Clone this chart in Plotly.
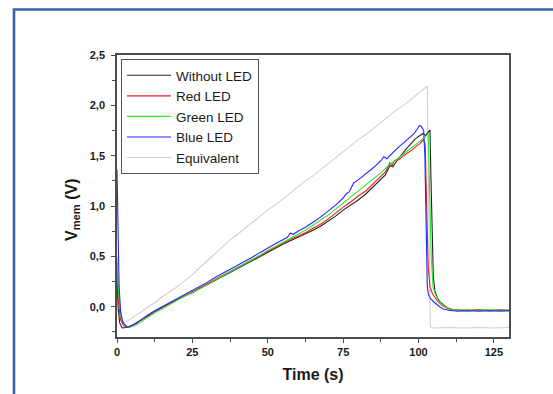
import plotly.graph_objects as go

# ---------------- data ----------------
t_black = [0, 0.4, 0.9, 1.7, 3, 5, 7.5, 10, 12.5, 15, 17.5, 20, 22.5, 25, 27.5, 30, 32.5, 35,
           37.5, 40, 42.5, 45, 47.5, 50, 52.5, 55, 57.5, 60, 62.5, 65, 67.5, 70, 72.5, 75,
           77.5, 80, 82.5, 85, 87.5, 89, 90.5, 91.5, 93, 94.5, 96, 97.5, 99, 100.5, 101.5,
           102.3, 103, 103.8, 104.1, 104.5, 104.9, 105.4, 106.2, 107.2, 108.2, 109.5, 111,
           113, 116, 120, 124, 127, 130]
v_black = [0.25, -0.02, -0.16, -0.21, -0.205, -0.185, -0.14, -0.095, -0.05, -0.01, 0.035, 0.07,
           0.11, 0.14, 0.185, 0.22, 0.26, 0.30, 0.345, 0.385, 0.42, 0.46, 0.50, 0.545, 0.58,
           0.62, 0.655, 0.69, 0.72, 0.76, 0.80, 0.85, 0.90, 0.96, 1.01, 1.06, 1.12, 1.19, 1.26,
           1.31, 1.40, 1.39, 1.46, 1.52, 1.57, 1.62, 1.67, 1.70, 1.72, 1.70, 1.73, 1.755, 1.3,
           0.7, 0.3, 0.16, 0.09, 0.045, 0.02, -0.01, -0.03, -0.035, -0.04, -0.035, -0.04,
           -0.035, -0.04]

t_red = [0, 0.5, 1.2, 2.2, 3.5, 5, 7.5, 10, 12.5, 15, 17.5, 20, 22.5, 25, 27.5, 30, 32.5, 35,
         37.5, 40, 42.5, 45, 47.5, 50, 52.5, 55, 57.5, 60, 62.5, 65, 67.5, 70, 72.5, 75, 77.5,
         80, 82.5, 85, 87.5, 89, 90.5, 91.2, 92, 93.5, 95, 96.5, 98, 99.5, 100.5, 101.5, 102.2,
         102.7, 103.2, 103.8, 104.6, 105.5, 106.5, 108, 110, 112, 116, 120, 124, 127, 130]
v_red = [0.45, 0.05, -0.13, -0.19, -0.205, -0.19, -0.145, -0.09, -0.05, -0.01, 0.035, 0.075,
         0.115, 0.15, 0.19, 0.23, 0.27, 0.31, 0.355, 0.395, 0.43, 0.47, 0.51, 0.555, 0.59,
         0.63, 0.67, 0.70, 0.735, 0.78, 0.82, 0.87, 0.93, 0.99, 1.04, 1.10, 1.15, 1.22, 1.29,
         1.34, 1.43, 1.40, 1.45, 1.46, 1.50, 1.53, 1.56, 1.60, 1.62, 1.66, 1.62, 1.0, 0.4, 0.2,
         0.13, 0.09, 0.05, 0.01, -0.02, -0.03, -0.035, -0.03, -0.035, -0.03, -0.035]

t_green = [0, 0.6, 1.5, 2.5, 4, 6, 7.5, 10, 12.5, 15, 17.5, 20, 22.5, 25, 27.5, 30, 32.5, 35,
           37.5, 40, 42.5, 45, 47.5, 50, 52.5, 55, 57.5, 60, 62.5, 65, 67.5, 70, 72.5, 75, 77.5,
           80, 82.5, 85, 87.5, 90, 92.5, 95, 97.5, 100, 102, 103.2, 103.6, 104.2, 104.8, 105.5,
           106.5, 107.5, 109, 111, 113, 116, 120, 124, 127, 130]
v_green = [0.5, 0.1, -0.12, -0.18, -0.205, -0.185, -0.16, -0.11, -0.06, -0.02, 0.025, 0.065,
           0.105, 0.14, 0.18, 0.22, 0.265, 0.305, 0.35, 0.39, 0.43, 0.475, 0.515, 0.56, 0.60,
           0.64, 0.68, 0.72, 0.76, 0.81, 0.86, 0.91, 0.97, 1.03, 1.09, 1.15, 1.21, 1.27, 1.33,
           1.40, 1.46, 1.52, 1.58, 1.64, 1.68, 1.72, 1.2, 0.5, 0.2, 0.13, 0.07, 0.03, 0.0,
           -0.025, -0.035, -0.03, -0.035, -0.03, -0.035, -0.03]

t_blue = [0, 0.3, 0.7, 1.2, 2, 3.5, 5, 7.5, 10, 12.5, 15, 17.5, 20, 22.5, 25, 27.5, 30, 32.5,
          35, 37.5, 40, 42.5, 45, 47.5, 50, 52.5, 55, 56.5, 57.5, 58.5, 60, 62.5, 65, 67.5, 70,
          72.5, 75, 76, 77, 78.5, 80, 82.5, 85, 87.5, 88.5, 89.5, 91, 92.5, 94, 95.5, 97, 98.5,
          99.5, 100.3, 101, 101.7, 102.1, 102.5, 102.9, 103.3, 104, 105, 106, 107, 108, 110,
          113, 116, 120, 124, 127, 130]
v_blue = [1.36, 0.7, 0.2, -0.05, -0.16, -0.205, -0.185, -0.14, -0.085, -0.04, 0.0, 0.045,
          0.085, 0.125, 0.165, 0.20, 0.245, 0.29, 0.33, 0.375, 0.415, 0.455, 0.495, 0.54,
          0.585, 0.625, 0.665, 0.69, 0.73, 0.72, 0.75, 0.79, 0.84, 0.89, 0.95, 1.01, 1.08,
          1.12, 1.14, 1.23, 1.26, 1.32, 1.38, 1.45, 1.49, 1.47, 1.52, 1.56, 1.60, 1.64, 1.68,
          1.72, 1.76, 1.80, 1.79, 1.75, 1.5, 0.6, 0.2, 0.12, 0.08, 0.05, 0.02, 0.0, -0.02,
          -0.035, -0.045, -0.04, -0.045, -0.04, -0.045, -0.04]

t_equiv = [0.8, 2.5, 5, 7.5, 10, 12.5, 15, 17.5, 20, 22.5, 25, 27.5, 30, 32.5, 35, 37.5, 40,
           42.5, 45, 47.5, 50, 52.5, 55, 57.5, 60, 62.5, 65, 67.5, 70, 72.5, 75, 77.5, 80, 82.5,
           85, 87.5, 90, 92.5, 95, 97.5, 100, 102.9, 103.3, 103.9, 105, 110, 115, 120, 125, 130]
v_equiv = [-0.12, -0.16, -0.11, -0.06, -0.01, 0.04, 0.10, 0.15, 0.20, 0.26, 0.32, 0.39, 0.46,
           0.53, 0.60, 0.665, 0.72, 0.78, 0.84, 0.90, 0.96, 1.01, 1.07, 1.13, 1.19, 1.25, 1.30,
           1.36, 1.42, 1.48, 1.54, 1.60, 1.66, 1.71, 1.77, 1.83, 1.89, 1.95, 2.00, 2.06, 2.12,
           2.19, 1.2, -0.20, -0.21, -0.205, -0.21, -0.205, -0.21, -0.205]

series_names = ["Without LED", "Red LED", "Green LED", "Blue LED", "Equivalent"]
series_colors = ["#222222", "#ee1c1c", "#2ee62e", "#2626ff", "#cfcfcf"]

x_ticks = [0, 25, 50, 75, 100, 125]
y_ticks = [0.0, 0.5, 1.0, 1.5, 2.0, 2.5]
y_ticktext = ["0,0", "0,5", "1,0", "1,5", "2,0", "2,5"]

# ---------------- figure ----------------
W, H = 553, 394
ML, MR, MT, MB = 117, 44, 55, 57
PW, PH = W - ML - MR, H - MT - MB

fig = go.Figure()
data = [(t_black, v_black), (t_red, v_red), (t_green, v_green), (t_blue, v_blue),
        (t_equiv, v_equiv)]
# draw order: equivalent first (behind), then others; legend order kept by legendrank
order = [4, 0, 1, 2, 3]
for i in order:
    tx, vy = data[i]
    fig.add_trace(go.Scatter(x=tx, y=vy, mode="lines", name=series_names[i],
                             line=dict(color=series_colors[i], width=1.1),
                             legendrank=i + 1))

axis_font = dict(family="Arial, Liberation Sans, sans-serif", size=11, color="#1a1a1a",
                 weight="bold")
line_col = "#4d4d4d"

fig.update_layout(
    width=W, height=H,
    margin=dict(l=ML, r=MR, t=MT, b=MB),
    paper_bgcolor="white", plot_bgcolor="white",
    showlegend=True,
    legend=dict(x=(121 - ML) / PW, y=(H - MB - 59) / PH, xanchor="left", yanchor="top",
                bgcolor="white", bordercolor="#555555", borderwidth=1,
                font=dict(family="Arial, Liberation Sans, sans-serif", size=13.5,
                          color="#1a1a1a"),
                itemwidth=44, tracegroupgap=0),
    xaxis=dict(range=[0, 130], tickvals=x_ticks, ticks="outside", ticklen=4, tickwidth=1.2,
               tickcolor=line_col, showline=True, linecolor=line_col, linewidth=1.5,
               mirror=True, showgrid=False, zeroline=False, tickfont=axis_font,
               minor=dict(ticks="outside", tick0=0, dtick=12.5, ticklen=3, tickcolor=line_col,
                          showgrid=False),
               title=dict(text="Time (s)", standoff=12,
                          font=dict(family="Arial, Liberation Sans, sans-serif", size=16,
                                    color="#1a1a1a", weight="bold"))),
    yaxis=dict(range=[-0.3, 2.5], tickvals=y_ticks, ticktext=y_ticktext, ticks="outside",
               ticklen=4, tickwidth=1.2, tickcolor=line_col, showline=True,
               linecolor=line_col, linewidth=1.5, mirror=True, showgrid=False,
               zeroline=False, tickfont=axis_font, ticklabelstandoff=4,
               minor=dict(ticks="outside", tick0=0, dtick=0.25, ticklen=3, tickcolor=line_col,
                          showgrid=False)),
)

# y-axis title (rotated, with subscript)
fig.add_annotation(text="<b>V<sub>mem</sub> (V)</b>", textangle=-90, showarrow=False,
                   xref="paper", yref="paper",
                   x=(72 - ML) / PW, y=(H - MB - 210) / PH, xanchor="center", yanchor="middle",
                   font=dict(family="Arial, Liberation Sans, sans-serif", size=16,
                             color="#1a1a1a"))

# blue outer frame of the figure panel
fig.add_shape(type="rect", xref="paper", yref="paper",
              x0=(14 - ML) / PW, x1=(W + 20 - ML) / PW,
              y0=(H - MB - (H + 20)) / PH, y1=(H - MB - 9.5) / PH,
              line=dict(color="#3b62a6", width=2.6), fillcolor="rgba(0,0,0,0)", layer="below")

fig.write_html("out.html")
